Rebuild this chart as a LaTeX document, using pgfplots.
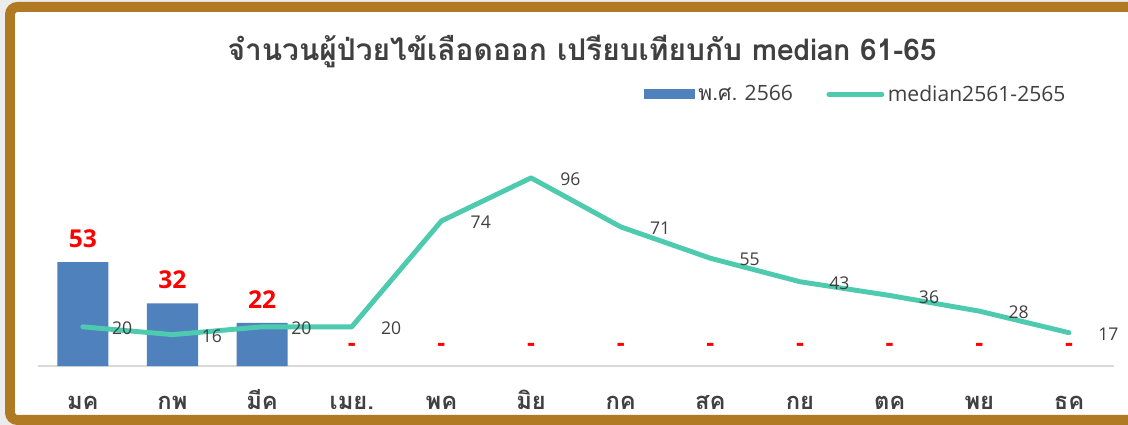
\documentclass[border=0pt]{standalone}
\usepackage{pgfplots}
\pgfplotsset{compat=1.18}
\usepackage{fontspec}
\setmainfont{Open Sans}
\newfontfamily\thaifont[Script=Thai]{Loma}
\definecolor{barblue}{RGB}{79,129,189}
\definecolor{medgreen}{RGB}{78,203,174}
\definecolor{framegold}{RGB}{176,122,37}
\definecolor{txt}{RGB}{64,64,64}
\begin{document}
\begin{tikzpicture}[x=0.02cm,y=0.02cm]
\clip (0,0) rectangle (1128,425);
\fill[gray!15] (0,0) rectangle (1128,425);
\draw[framegold, line width=0.2cm, rounded corners=0.15cm, fill=white] (10,5) rectangle (1160,418);
\node[font=\thaifont\bfseries\fontsize{17}{20}\selectfont, text=txt] at (582,373) {จำนวนผู้ป่วยไข้เลือดออก เปรียบเทียบกับ median 61-65};
\begin{axis}[at={(0.76cm,1.18cm)}, anchor=south west, scale only axis,
  width=21.52cm, height=4.312cm,
  xmin=-0.5, xmax=11.5, ymin=0, ymax=110,
  hide y axis, axis x line=bottom,
  x axis line style={draw=gray!30, line width=1pt, -},
  xtick={0,...,11},
  xticklabels={มค,กพ,มีค,เมย.,พค,มิย,กค,สค,กย,ตค,พย,ธค},
  major tick length=0,
  xticklabel style={font=\thaifont\bfseries\fontsize{13.5}{15}\selectfont, text=txt,
    text height=1.25em, text depth=0.3em, yshift=-0.3cm},
  /pgf/number format/assume math mode=true,
  clip=false,
  legend style={at={(0.558,1.26)}, anchor=west, draw=none, fill=none,
    font=\fontsize{12}{14}\selectfont, text=txt,
    /tikz/every even column/.append style={column sep=0.6cm}},
  legend columns=2, legend cell align=left,
]
\addplot[ybar, bar width=0.57, fill=barblue, draw=none,
  legend image code/.code={\fill[barblue] (0cm,-0.1cm) rectangle (1.02cm,0.1cm);}]
  coordinates {(0,53) (1,32) (2,22)};
\addlegendentry{{\thaifont พ.ศ.} 2566}
\addplot[medgreen, line width=2.8pt, line join=round, line cap=round, mark=none,
  nodes near coords,
  every node near coord/.append style={anchor=west, xshift=0.42cm, yshift=-0.03cm, font=\fontsize{10}{12}\selectfont, text=txt},
  legend image code/.code={\draw[medgreen, line width=2.8pt, line cap=round] (0cm,0cm) -- (1.06cm,0cm);}]
  coordinates {(0,20) (1,16) (2,20) (3,20) (4,74) (5,96) (6,71) (7,55) (8,43) (9,36) (10,28) (11,17)};
\addlegendentry{median2561-2565}
\addplot[draw=none, mark=none, forget plot, nodes near coords, point meta=explicit symbolic,
  every node near coord/.append style={anchor=south, font=\bfseries\fontsize{14}{16}\selectfont, text=red, yshift=0.17cm}]
  coordinates {(0,53)[53] (1,32)[32] (2,22)[22] (3,0)[-] (4,0)[-] (5,0)[-] (6,0)[-] (7,0)[-] (8,0)[-] (9,0)[-] (10,0)[-] (11,0)[-]};
\end{axis}
\end{tikzpicture}
\end{document}
